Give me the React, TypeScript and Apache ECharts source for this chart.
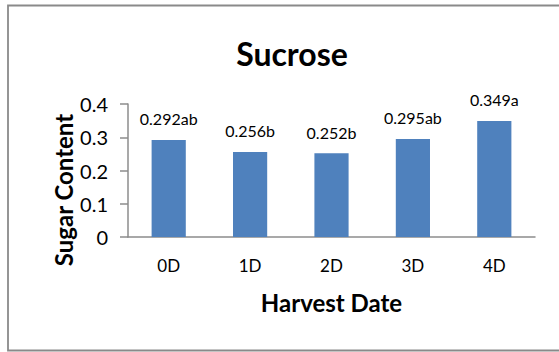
import React, { useEffect, useRef } from "react";
import * as echarts from "echarts";

const categories = ["0D", "1D", "2D", "3D", "4D"];
const values = [0.292, 0.256, 0.252, 0.295, 0.349];
const labels = ["0.292ab", "0.256b", "0.252b", "0.295ab", "0.349a"];
const yTicks = [0, 0.1, 0.2, 0.3, 0.4];

const FONT = "Lato, 'Open Sans', sans-serif";

export default function App() {
  const ref = useRef<HTMLDivElement>(null);
  useEffect(() => {
    if (!ref.current) return;
    const chart = echarts.init(ref.current, undefined, { renderer: "svg" });
    chart.setOption({
      animation: false,
      backgroundColor: "#ffffff",
      title: {
        text: "Sucrose",
        left: 287,
        top: 32,
        textAlign: "center",
        textStyle: { fontFamily: FONT, fontSize: 32, fontWeight: "bold", color: "#000" },
      },
      graphic: [
        {
          type: "rect",
          shape: { x: 8, y: 5.5, width: 560, height: 345 },
          style: { fill: "none", stroke: "#8a8a8a", lineWidth: 1.8 },
          silent: true,
        },
        {
          type: "text",
          x: 63,
          y: 190,
          rotation: Math.PI / 2,
          style: {
            text: "Sugar Content",
            fontFamily: FONT,
            fontSize: 24,
            fontWeight: "bold",
            fill: "#000",
            align: "center",
            verticalAlign: "middle",
          },
          silent: true,
        },
      ],
      grid: { left: 128, right: 24, top: 104, bottom: 115 },
      xAxis: {
        type: "category",
        data: categories,
        name: "Harvest Date",
        nameLocation: "middle",
        nameGap: 53,
        nameTextStyle: { fontFamily: FONT, fontSize: 24, fontWeight: "bold", color: "#000" },
        axisLine: { lineStyle: { color: "#8c8c8c", width: 1.5 } },
        axisTick: { show: false },
        axisLabel: { fontFamily: FONT, fontSize: 17, color: "#000", margin: 20 },
      },
      yAxis: {
        type: "value",
        min: 0,
        max: 0.4,
        interval: 0.1,
        axisLine: { show: true, lineStyle: { color: "#8c8c8c", width: 1.5 } },
        axisTick: { show: true, length: 8, lineStyle: { color: "#8c8c8c", width: 1.5 } },
        splitLine: { show: false },
        axisLabel: {
          fontFamily: FONT,
          fontSize: 20,
          color: "#000",
          margin: 20,
          formatter: (v: number) => {
            const t = yTicks.find((x) => Math.abs(x - v) < 1e-9);
            return t === 0 ? "0" : String(t ?? v);
          },
        },
      },
      series: [
        {
          type: "bar",
          data: values,
          barWidth: "42%",
          itemStyle: { color: "#4f81bd" },
          label: {
            show: true,
            position: "top",
            distance: 13,
            fontFamily: FONT,
            fontSize: 16,
            color: "#000",
            formatter: (p: any) => labels[p.dataIndex],
          },
        },
      ],
    });
    return () => chart.dispose();
  }, []);
  return (
    <div
      ref={ref}
      style={{ position: "fixed", left: 0, top: 0, width: 559, height: 352 }}
    />
  );
}
